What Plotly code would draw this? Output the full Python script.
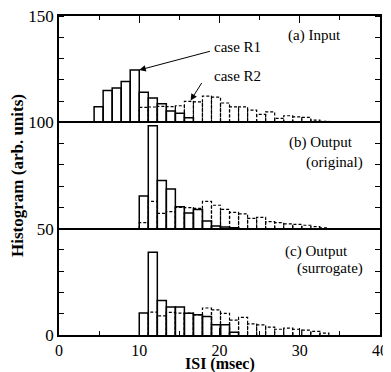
import plotly.graph_objects as go

# ---- data ----
BIN_START = 4.375      # msec, left edge of first bin
BIN_WIDTH = 1.125      # msec
PANEL_BASES = [100, 50, 0]
PANEL_NAMES = ["a", "b", "c"]

# heights above each panel's baseline, bins 0..25
a_R1 = [7.3, 15.0, 16.2, 19.2, 24.6, 14.1, 11.4, 8.7, 5.3, 4.3, 2.2, 0, 0, 0, 0, 0, 0, 0, 0, 0, 0, 0, 0, 0, 0, 0]
a_R2 = [0, 0, 0, 0, 0, 7.0, 7.2, 7.5, 7.4, 7.8, 9.9, 9.6, 12.3, 11.9, 9.1, 7.3, 7.3, 5.7, 3.7, 4.9, 1.9, 3.1, 2.6, 2.3, 1.0, 0.5]
b_R1 = [0, 0, 0, 0, 0, 15.4, 48.4, 22.6, 18.7, 10.3, 7.4, 9.0, 3.6, 1.2, 0.8, 0.4, 0, 0, 0, 0, 0, 0, 0, 0, 0, 0]
b_R2 = [0, 0, 0, 0, 0, 2.8, 12.8, 7.2, 8.0, 10.0, 9.9, 9.5, 12.8, 11.0, 9.1, 7.7, 7.0, 4.8, 5.3, 3.3, 2.8, 2.3, 2.0, 1.6, 1.0, 0.4]
c_R1 = [0, 0, 0, 0, 0, 10.3, 38.9, 16.2, 13.2, 13.2, 10.2, 9.5, 8.7, 4.8, 4.8, 1.3, 0, 0, 0, 0, 0, 0, 0, 0, 0, 0]
c_R2 = [0, 0, 0, 0, 0, 0, 10.8, 9.0, 10.6, 10.3, 10.3, 9.5, 12.7, 11.8, 10.2, 7.0, 8.3, 5.2, 4.8, 3.7, 2.7, 3.2, 2.7, 2.3, 1.7, 0.9]

X_TICKS = [0, 10, 20, 30, 40]
Y_TICKS = [0, 50, 100, 150]
X_TITLE = "ISI (msec)"
Y_TITLE = "Histogram (arb. units)"

SERIES = {"a": (a_R1, a_R2), "b": (b_R1, b_R2), "c": (c_R1, c_R2)}

FONT = "Liberation Serif, Times New Roman, serif"


def bar_outline(values, base):
    xs, ys = [], []
    for i, v in enumerate(values):
        if v <= 0:
            continue
        x0 = BIN_START + i * BIN_WIDTH
        x1 = x0 + BIN_WIDTH
        xs += [x0, x0, x1, x1, None]
        ys += [base, base + v, base + v, base, None]
    return xs, ys


fig = go.Figure()
for name, base in zip(PANEL_NAMES, PANEL_BASES):
    r1, r2 = SERIES[name]
    xs, ys = bar_outline(r2, base)
    fig.add_trace(go.Scatter(x=xs, y=ys, mode="lines",
                             line=dict(color="black", width=1.2, dash="3px,2px"),
                             showlegend=False, hoverinfo="skip"))
    xs, ys = bar_outline(r1, base)
    fig.add_trace(go.Scatter(x=xs, y=ys, mode="lines",
                             line=dict(color="black", width=1.5),
                             showlegend=False, hoverinfo="skip"))

ann_font = dict(family=FONT, size=15, color="black")
annotations = [
    dict(x=35.4, y=141.0, text="(a) Input", xanchor="right", showarrow=False, font=ann_font),
    dict(x=19.1, y=135.4, text="case R1", xanchor="left", showarrow=False, font=ann_font),
    dict(x=19.1, y=121.8, text="case R2", xanchor="left", showarrow=False, font=ann_font),
    dict(x=36.9, y=90.6, text="(b) Output", xanchor="right", showarrow=False, font=ann_font),
    dict(x=38.1, y=80.9, text="(original)", xanchor="right", showarrow=False, font=ann_font),
    dict(x=36.2, y=39.2, text="(c) Output", xanchor="right", showarrow=False, font=ann_font),
    dict(x=38.1, y=31.4, text="(surrogate)", xanchor="right", showarrow=False, font=ann_font),
    dict(x=10.0, y=124.6, ax=19.0, ay=133.6, axref="x", ayref="y", text="",
         showarrow=True, arrowhead=2, arrowsize=1.3, arrowwidth=1, arrowcolor="black"),
    dict(x=16.4, y=110.3, ax=17.9, ay=119.2, axref="x", ayref="y", text="",
         showarrow=True, arrowhead=2, arrowsize=1.3, arrowwidth=1, arrowcolor="black"),
    # x-axis title
    dict(x=0.5, y=0, xref="paper", yref="paper", xanchor="center", yanchor="top",
         yshift=-18, text="<b>" + X_TITLE + "</b>", showarrow=False,
         font=dict(family=FONT, size=16, color="black")),
]

# the page body keeps an 8px default margin, so the figure is 8px smaller
fig.update_layout(
    width=383, height=364,
    margin=dict(l=51, r=11, t=8, b=37, autoexpand=False),
    paper_bgcolor="white", plot_bgcolor="white",
    font=dict(family=FONT, size=17, color="black"),
    annotations=annotations,
    showlegend=False,
)
fig.update_xaxes(
    range=[0, 40], tickmode="array", tickvals=X_TICKS, ticktext=[str(t) for t in X_TICKS],
    ticks="inside", ticklen=7, tickwidth=1.2, tickcolor="black",
    minor=dict(dtick=5, ticks="inside", ticklen=4, tickwidth=1, tickcolor="black"),
    showline=True, linecolor="black", linewidth=1.8, mirror="ticks",
    showgrid=False, zeroline=False, automargin=False, ticklabeloverflow="allow",
    tickfont=dict(family=FONT, size=16),
)
fig.update_yaxes(
    range=[0, 150], tickmode="array", tickvals=Y_TICKS, ticktext=[str(t) for t in Y_TICKS],
    ticks="", showgrid=True, gridcolor="black", gridwidth=1.5,
    minor=dict(dtick=10, ticks="inside", ticklen=5, tickwidth=1, tickcolor="black", showgrid=False),
    showline=True, linecolor="black", linewidth=1.8, mirror="ticks",
    zeroline=False, automargin=False, ticklabeloverflow="allow",
    tickfont=dict(family=FONT, size=17),
    title=dict(text="<b>" + Y_TITLE + "</b>", font=dict(family=FONT, size=17)),
)

fig.write_html("out.html")
